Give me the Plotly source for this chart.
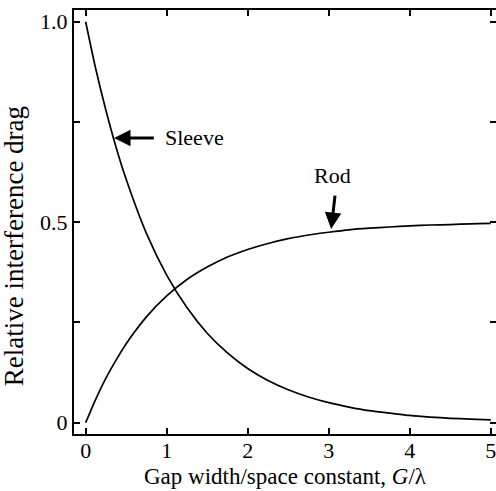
import plotly.graph_objects as go

# Values
gap = [0, 0.125, 0.25, 0.375, 0.5, 0.75, 1.0, 1.25, 1.5, 1.75, 2.0, 2.25, 2.5,
       2.75, 3.0, 3.25, 3.5, 3.75, 4.0, 4.25, 4.5, 4.75, 5.0]
sleeve = [1.0, 0.882, 0.779, 0.687, 0.607, 0.472, 0.368, 0.287, 0.223, 0.174,
          0.135, 0.105, 0.082, 0.064, 0.050, 0.039, 0.030, 0.024, 0.018, 0.014,
          0.011, 0.009, 0.007]
rod = [0.0, 0.059, 0.111, 0.156, 0.197, 0.264, 0.316, 0.357, 0.388, 0.413,
       0.432, 0.447, 0.459, 0.468, 0.475, 0.481, 0.485, 0.488, 0.491, 0.493,
       0.494, 0.496, 0.497]

x_ticks = [0, 1, 2, 3, 4, 5]
x_ticklabels = ["0", "1", "2", "3", "4", "5"]
y_ticks = [0, 0.25, 0.5, 0.75, 1.0]
y_ticklabels = ["0", "", "0.5", "", "1.0"]

FONT = "Liberation Serif"
fig = go.Figure()
fig.add_trace(go.Scatter(x=gap, y=sleeve, mode="lines",
                         line=dict(color="black", width=1.7, shape="spline", smoothing=0.8),
                         showlegend=False))
fig.add_trace(go.Scatter(x=gap, y=rod, mode="lines",
                         line=dict(color="black", width=1.7, shape="spline", smoothing=0.8),
                         showlegend=False))
# invisible trace for right-side ticks
fig.add_trace(go.Scatter(x=[None], y=[None], yaxis="y2", showlegend=False))

fig.add_annotation(x=0.35, y=0.71, ax=0.86, ay=0.71, xref="x", yref="y", axref="x", ayref="y",
                   showarrow=True, arrowhead=2, arrowwidth=3, arrowsize=1.1, arrowcolor="black", text="")
fig.add_annotation(x=0.95, y=0.71, xref="x", yref="y", text="Sleeve", showarrow=False, xanchor="left",
                   font=dict(family=FONT, size=22, color="black"))
fig.add_annotation(x=3.03, y=0.483, ax=3.08, ay=0.57, xref="x", yref="y", axref="x", ayref="y",
                   showarrow=True, arrowhead=2, arrowwidth=3, arrowsize=1.1, arrowcolor="black", text="")
fig.add_annotation(x=3.05, y=0.617, xref="x", yref="y", text="Rod", showarrow=False,
                   font=dict(family=FONT, size=22, color="black"))
# y-axis title
fig.add_annotation(x=-0.142, y=0.443, xref="paper", yref="paper", text="Relative interference drag",
                   textangle=-90, showarrow=False, xanchor="center", yanchor="middle",
                   font=dict(family=FONT, size=27, color="black"))

fig.update_layout(
    width=496, height=491,
    margin=dict(l=74, r=0, t=10, b=57),
    paper_bgcolor="white", plot_bgcolor="white",
    font=dict(family=FONT, size=22, color="black"),
    xaxis=dict(range=[-0.144, 5.065], tickvals=x_ticks, ticktext=x_ticklabels,
               showgrid=False, zeroline=False, showline=True, linecolor="black", linewidth=2,
               mirror="ticks", ticks="inside", ticklen=6, tickwidth=1.5, tickcolor="black",
               ticklabelstandoff=-4, ticklabeloverflow="allow",
               title=dict(text="Gap width/space constant, <i>G</i>/λ", standoff=5,
                          font=dict(size=23))),
    yaxis=dict(range=[-0.0282, 1.0292], tickvals=y_ticks, ticktext=y_ticklabels,
               showgrid=False, zeroline=False, showline=True, linecolor="black", linewidth=2,
               ticks="inside", ticklen=6, tickwidth=1.5, tickcolor="black"),
    yaxis2=dict(range=[-0.0282, 1.0292], overlaying="y", side="right", tickvals=y_ticks,
                showticklabels=False, showgrid=False, zeroline=False, showline=False,
                ticks="inside", ticklen=6, tickwidth=1.5, tickcolor="black"),
)
fig.write_html("out.html")
